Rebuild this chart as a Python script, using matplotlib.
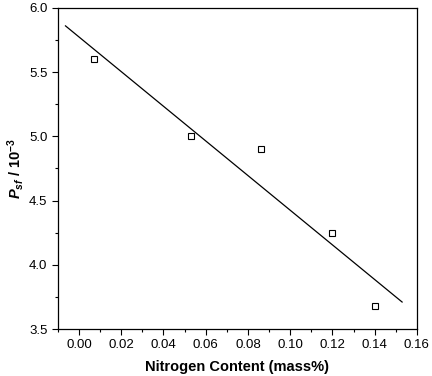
import matplotlib
matplotlib.use("Agg")
import matplotlib.pyplot as plt
from matplotlib.ticker import MultipleLocator

plt.rcParams['font.family'] = 'Liberation Sans'
plt.rcParams['mathtext.fontset'] = 'custom'
plt.rcParams['mathtext.rm'] = 'Liberation Sans'
plt.rcParams['mathtext.bf'] = 'Liberation Sans:bold'
plt.rcParams['mathtext.it'] = 'Liberation Sans:italic'
plt.rcParams['mathtext.bfit'] = 'Liberation Sans:italic:bold'

# measured points
nitrogen = [0.007, 0.053, 0.086, 0.120, 0.140]
psf = [5.60, 5.00, 4.90, 4.25, 3.68]

# fitted line end points
fit_x = [-0.0064, 0.153]
fit_y = [5.86, 3.71]

fig = plt.figure(figsize=(4.32, 3.76), dpi=100)
ax = fig.add_axes([0.134, 0.125, 0.831, 0.854])

ax.plot(nitrogen, psf, linestyle='none', marker='s', ms=4.3,
        mfc='white', mec='black', mew=0.8)
ax.plot(fit_x, fit_y, color='black', lw=0.9)

ax.set_xlim(-0.01, 0.16)
ax.set_ylim(3.5, 6.0)
ax.xaxis.set_major_locator(MultipleLocator(0.02))
ax.xaxis.set_minor_locator(MultipleLocator(0.01))
ax.yaxis.set_major_locator(MultipleLocator(0.5))
ax.yaxis.set_minor_locator(MultipleLocator(0.25))
ax.xaxis.set_major_formatter(plt.FormatStrFormatter('%.2f'))
ax.yaxis.set_major_formatter(plt.FormatStrFormatter('%.1f'))

ax.tick_params(which='both', direction='out', labelsize=9.5, width=0.8)
ax.tick_params(which='major', length=4)
ax.tick_params(which='minor', length=2.5)
for s in ax.spines.values():
    s.set_linewidth(0.9)

ax.set_xlabel('Nitrogen Content (mass%)', fontsize=10.5, fontweight='bold', labelpad=6)
ax.set_ylabel(r'$\mathbfit{P}_{\mathbfit{sf}}$ / 10$^{\mathbf{-3}}$',
              fontsize=10.5, fontweight='bold', labelpad=2)

fig.savefig('out.png', dpi=100)
